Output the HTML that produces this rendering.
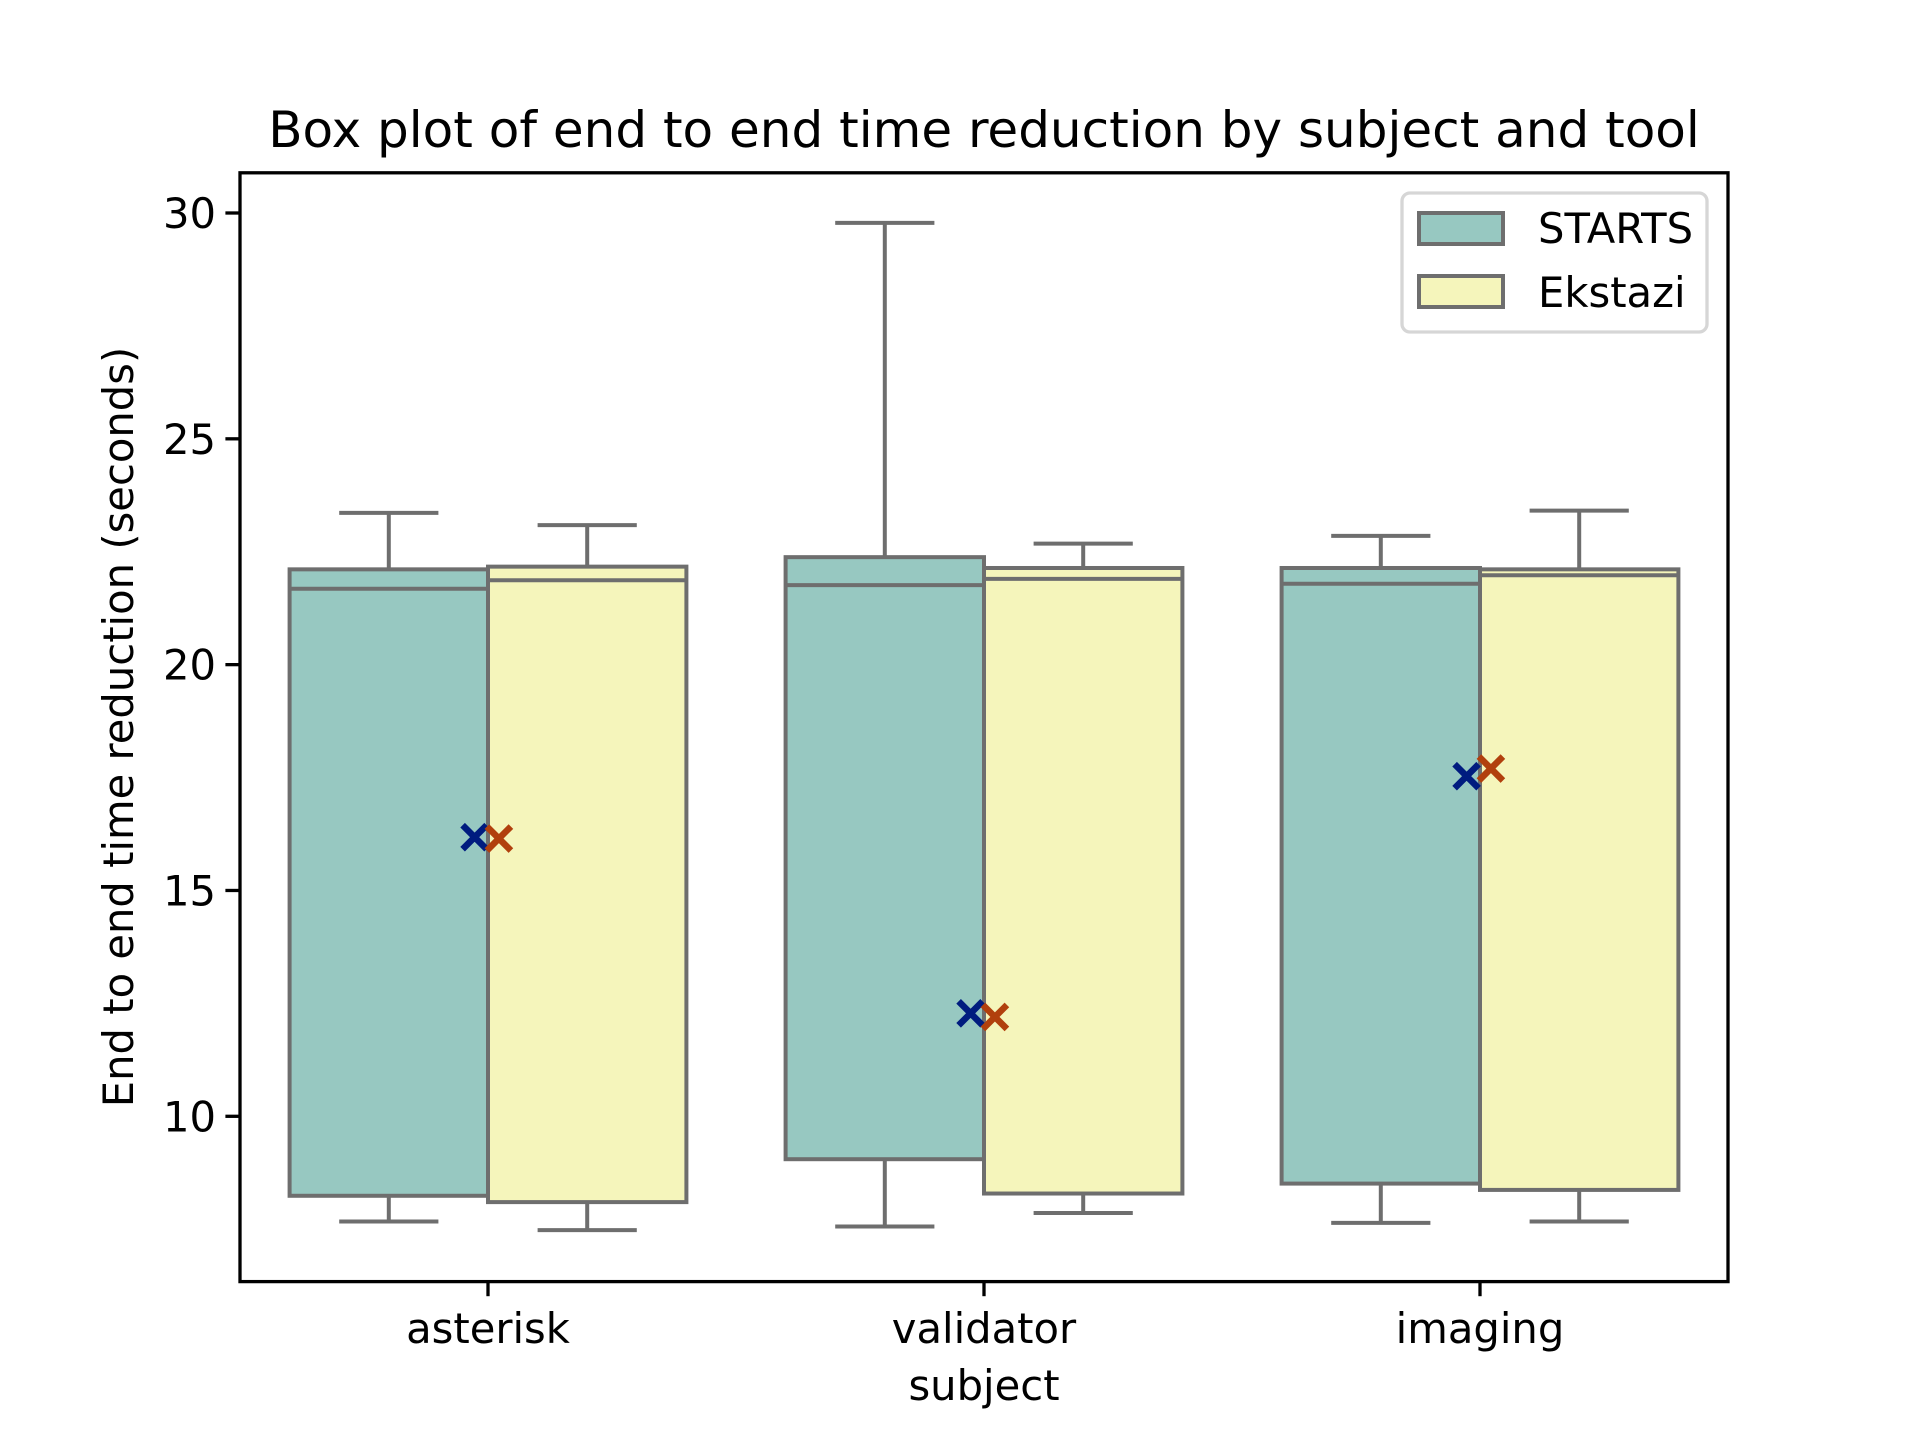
<!DOCTYPE html>
<html><head><meta charset="utf-8"><style>
html,body{margin:0;padding:0;background:#fff;}
svg{display:block;font-family:"DejaVu Sans","Liberation Sans",sans-serif;}
</style></head><body>
<svg id="chart" width="1920" height="1440" viewBox="0 0 1920 1440" xmlns="http://www.w3.org/2000/svg">
<rect width="1920" height="1440" fill="#fff"/>
<g id="plot"></g>
<rect x="240" y="172.8" width="1488" height="1108.8" fill="none" stroke="#000" stroke-width="3.3"/>
<text x="984" y="147" font-size="50" text-anchor="middle">Box plot of end to end time reduction by subject and tool</text>
<text x="984" y="1400" font-size="41.7" text-anchor="middle">subject</text>
<text transform="translate(133,727) rotate(-90)" font-size="41.7" text-anchor="middle">End to end time reduction (seconds)</text>
<g>
<rect x="1402" y="193" width="305" height="139" rx="8" fill="#fff" fill-opacity="0.8" stroke="#d6d6d6" stroke-width="3.3"/>
<rect x="1419" y="213" width="84" height="31" fill="#97c8c1" stroke="#6e6e6e" stroke-width="4"/>
<text x="1538" y="243" font-size="41.7">STARTS</text>
<rect x="1419" y="276" width="84" height="31" fill="#f5f5bb" stroke="#6e6e6e" stroke-width="4"/>
<text x="1538" y="307" font-size="41.7">Ekstazi</text>
</g>
</svg>
<script>
var categories = ["asterisk", "validator", "imaging"];
var tools = ["STARTS", "Ekstazi"];
var startsLow = [7.67, 7.56, 7.64];
var startsQ1 = [8.24, 9.05, 8.51];
var startsMedian = [21.68, 21.76, 21.79];
var startsQ3 = [22.11, 22.38, 22.14];
var startsHigh = [23.36, 29.78, 22.85];
var startsMean = [16.18, 12.28, 17.53];
var ekstaziLow = [7.48, 7.86, 7.67];
var ekstaziQ1 = [8.10, 8.29, 8.37];
var ekstaziMedian = [21.87, 21.90, 21.98];
var ekstaziQ3 = [22.17, 22.14, 22.11];
var ekstaziHigh = [23.09, 22.68, 23.41];
var ekstaziMean = [16.15, 12.20, 17.70];
var yTicks = [10, 15, 20, 25, 30];

var SVGNS = "http://www.w3.org/2000/svg";
var AX_L = 240, AX_R = 1728, AX_T = 172.8, AX_B = 1281.6;
var Y_MIN = 6.34, Y_MAX = 30.89;
function xScale(v) { return AX_L + (v + 0.5) / 3 * (AX_R - AX_L); }
function yScale(v) { return AX_B - (Number(v) - Y_MIN) / (Y_MAX - Y_MIN) * (AX_B - AX_T); }
var plotGroup = document.getElementById('plot');
function mk(tag, attrs) {
  var e = document.createElementNS(SVGNS, tag);
  for (var k in attrs) e.setAttribute(k, attrs[k]);
  plotGroup.appendChild(e);
  return e;
}
var EDGE = "#6e6e6e", LW = 4;
function drawSeries(sname, low, q1, med, q3, high, fill, off) {
  for (var i = 0; i < categories.length; i++) {
    var c = categories[i];
    var cx = xScale(i + off);
    var x0 = xScale(i + off - 0.2), x1 = xScale(i + off + 0.2);
    var c0 = xScale(i + off - 0.1), c1 = xScale(i + off + 0.1);
    var yq1 = yScale(q1[i]), yq3 = yScale(q3[i]), ymed = yScale(med[i]), ylo = yScale(low[i]), yhi = yScale(high[i]);
    var e;
    e = mk('line', {x1: cx, x2: cx, y1: yq3, y2: yhi, stroke: EDGE, 'stroke-width': LW});
    
    
    e = mk('line', {x1: cx, x2: cx, y1: yq1, y2: ylo, stroke: EDGE, 'stroke-width': LW});
    
    
    e = mk('line', {x1: c0, x2: c1, y1: yhi, y2: yhi, stroke: EDGE, 'stroke-width': LW});
    
    
    e = mk('line', {x1: c0, x2: c1, y1: ylo, y2: ylo, stroke: EDGE, 'stroke-width': LW});
    
    
    e = mk('rect', {x: x0, y: Math.min(yq1, yq3), width: x1 - x0, height: Math.abs(yq1 - yq3), fill: fill, stroke: EDGE, 'stroke-width': LW});
    
    
    e = mk('line', {x1: x0, x2: x1, y1: ymed, y2: ymed, stroke: EDGE, 'stroke-width': LW});
    
    
  }
}
function drawMeans(sname, mean, color, moff) {
  for (var i = 0; i < categories.length; i++) {
    var mx = xScale(i + moff), my = yScale(mean[i]), d = 12;
    var e = mk('path', {d: 'M' + (mx - d) + ',' + (my - d) + 'L' + (mx + d) + ',' + (my + d) + 'M' + (mx - d) + ',' + (my + d) + 'L' + (mx + d) + ',' + (my - d), stroke: color, 'stroke-width': 6.5, fill: 'none'});
    
    
  }
}
drawSeries('starts', startsLow, startsQ1, startsMedian, startsQ3, startsHigh, '#97c8c1', -0.2);
drawSeries('ekstazi', ekstaziLow, ekstaziQ1, ekstaziMedian, ekstaziQ3, ekstaziHigh, '#f5f5bb', 0.2);
drawMeans('starts', startsMean, '#001c7f', -0.027);
drawMeans('ekstazi', ekstaziMean, '#b1400d', 0.022);
for (var t = 0; t < yTicks.length; t++) {
  var v = yTicks[t];
  var e1 = mk('line', {x1: AX_L - 14.6, x2: AX_L, y1: yScale(v), y2: yScale(v), stroke: '#000', 'stroke-width': 3.3});
  
  
  var e2 = mk('text', {x: AX_L - 24, y: yScale(v) + 15, 'font-size': 41.7, 'text-anchor': 'end'});
  e2.textContent = v;
  
  
}
for (var j = 0; j < categories.length; j++) {
  var cc = categories[j];
  var e3 = mk('line', {x1: xScale(j), x2: xScale(j), y1: AX_B, y2: AX_B + 14.6, stroke: '#000', 'stroke-width': 3.3});
  
  
  var e4 = mk('text', {x: xScale(j), y: 1343, 'font-size': 41.7, 'text-anchor': 'middle'});
  e4.textContent = cc;
  
  
}
</script>
</body></html>
